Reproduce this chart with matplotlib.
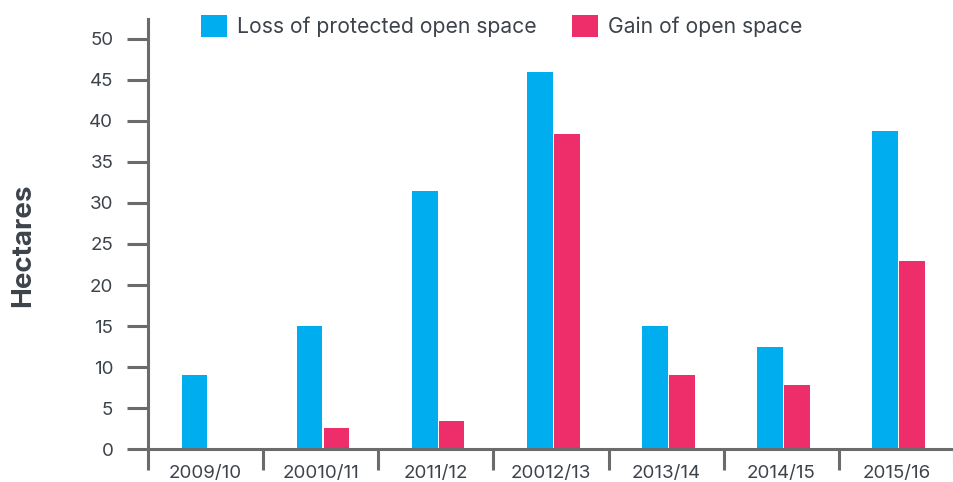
import matplotlib
matplotlib.use("Agg")
import matplotlib.pyplot as plt
from matplotlib.patches import Patch
import numpy as np

categories = ["2009/10", "20010/11", "2011/12", "20012/13", "2013/14", "2014/15", "2015/16"]
loss = [9.0, 15.0, 31.5, 45.9, 15.0, 12.5, 38.8]
gain = [0.0, 2.6, 3.5, 38.4, 9.0, 7.8, 22.9]
series_names = ["Loss of protected open space", "Gain of open space"]
colors = ["#00AEEF", "#EE2D6B"]
yticks = [0, 5, 10, 15, 20, 25, 30, 35, 40, 45, 50]

plt.rcParams['font.family'] = ['Inter', 'DejaVu Sans']
text_color = "#3d434b"
axis_color = "#6b6b6b"

W, H = 954, 482
fig = plt.figure(figsize=(W / 100, H / 100), dpi=100)
left_px, bottom_px, top_px = 148, 449.3, 19
ax = fig.add_axes([left_px / W, (H - bottom_px) / H, 1 - left_px / W, (bottom_px - top_px) / H])

x = np.arange(len(categories))
w = 0.224
gap = 0.0045
off = 0.02
ax.bar(x + off - w / 2 - gap, loss, width=w, color=colors[0], linewidth=0)
ax.bar(x + off + w / 2 + gap, [g if g > 0 else np.nan for g in gain], width=w, color=colors[1], linewidth=0)

ax.set_xlim(-0.5, -0.5 + (W - left_px) / 116)
ax.set_ylim(0, (bottom_px - top_px) / 8.213)

for s in ["top", "right"]:
    ax.spines[s].set_visible(False)
for s in ["left", "bottom"]:
    ax.spines[s].set_color(axis_color)
    ax.spines[s].set_linewidth(2.2)

ax.set_yticks(yticks)
ax.set_yticklabels([str(v) for v in yticks])
ax.tick_params(axis="y", length=15, width=2.2, color=axis_color, pad=10,
               labelsize=13.5, labelcolor=text_color, direction="out")

ax.set_xticks(x)
ax.set_xticklabels(categories)
ax.tick_params(axis="x", which="major", length=0, pad=11, labelsize=13.5, labelcolor=text_color)
ax.set_xticks(np.arange(-0.5, len(categories), 1.0), minor=True)
ax.tick_params(axis="x", which="minor", length=15, width=2.2, color=axis_color, direction="out")

fig.text(23 / W, 1 - 245 / H, "Hectares", rotation=90, ha="center", va="center",
         fontsize=20, fontweight="bold", color=text_color)

handles = [Patch(facecolor=c, edgecolor="none") for c in colors]
fs = 15.2
fig.legend(handles, series_names, loc="upper left", bbox_to_anchor=(201 / W, 1 - 15 / H),
           ncol=2, frameon=False, fontsize=fs, labelcolor=text_color,
           handlelength=1.23, handleheight=1.23, handletextpad=0.48, columnspacing=1.66,
           borderpad=0, borderaxespad=0)

fig.savefig("out.png", dpi=100)
